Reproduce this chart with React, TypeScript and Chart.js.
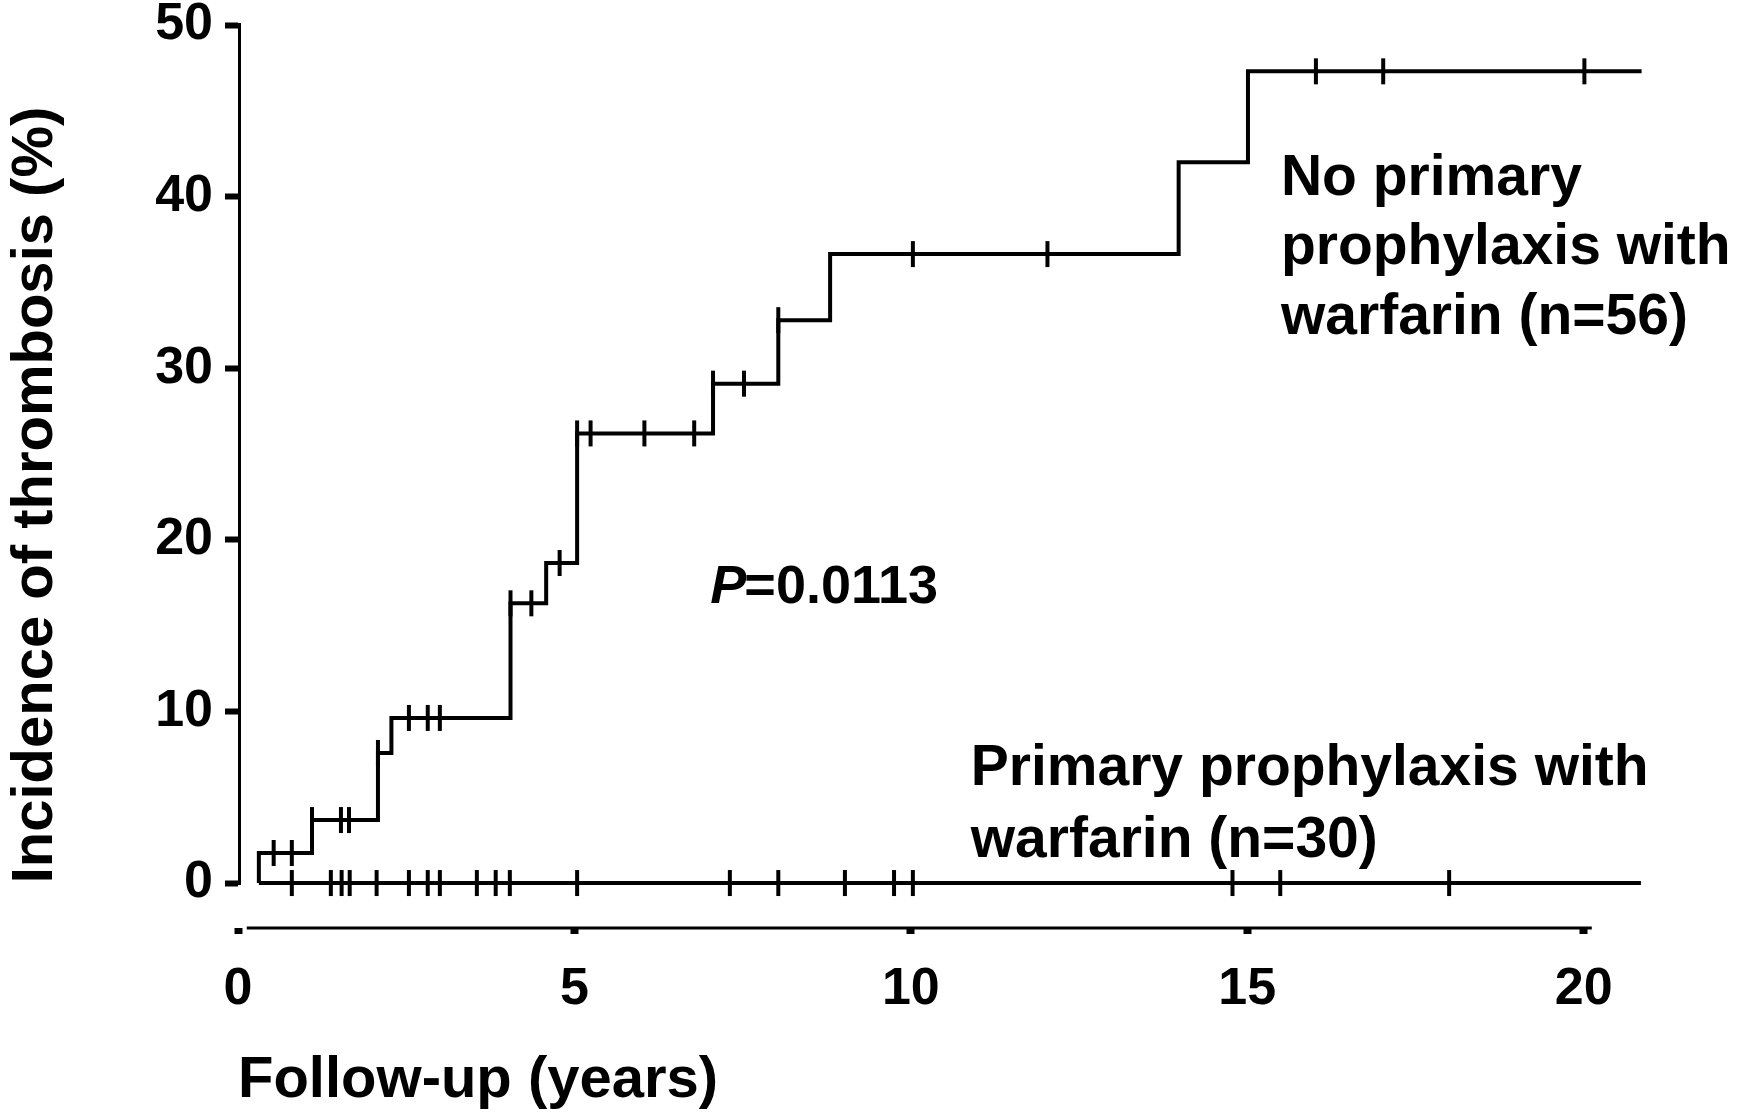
import React, { useEffect, useRef } from 'react';
import { Chart, registerables } from 'chart.js';

Chart.register(...registerables);

const FONT = '"Liberation Sans", Arial, Helvetica, sans-serif';

// Kaplan-Meier step curve: no primary prophylaxis with warfarin (n=56)
const noProphTimes = [0.31, 0.31, 1.1, 2.08, 2.28, 4.05, 4.58, 5.04, 7.06, 8.03, 8.8, 13.98, 15.01, 20.86];
const noProphPct = [0, 1.75, 3.67, 7.58, 9.62, 16.3, 18.65, 26.2, 29.1, 32.8, 36.65, 42.0, 47.3, 47.3];

// Censored observations on the no-prophylaxis curve
const noProphCensorTimes = [0.53, 0.8, 1.1, 1.53, 1.65, 2.08, 2.54, 2.82, 3.0, 4.05, 4.36, 4.78, 5.04, 5.24, 6.04, 6.78, 7.06, 7.52, 8.03, 10.03, 12.03, 16.02, 17.02, 20.01];
const noProphCensorPct = [1.75, 1.75, 3.67, 3.67, 3.67, 7.58, 9.62, 9.62, 9.62, 16.3, 16.3, 18.65, 26.2, 26.2, 26.2, 26.2, 29.1, 29.1, 32.8, 36.65, 36.65, 47.3, 47.3, 47.3];

// Primary prophylaxis with warfarin (n=30): no events
const prophTimes = [0.31, 20.85];
const prophPct = [0, 0];
const prophCensorTimes = [0.8, 1.38, 1.54, 1.66, 2.06, 2.54, 2.82, 3.0, 3.55, 3.83, 4.04, 5.04, 7.31, 8.03, 9.02, 9.75, 10.03, 14.78, 15.49, 18.0];

// Axis ticks
const xTickValues = [0, 5, 10, 15, 20];
const yTickValues = [0, 10, 20, 30, 40, 50];

const xTitle = 'Follow-up (years)';
const yTitle = 'Incidence of thrombosis (%)';
const noProphLabel = ['No primary', 'prophylaxis with', 'warfarin (n=56)'];
const prophLabel = ['Primary prophylaxis with', 'warfarin (n=30)'];
const pValueText = '=0.0113';

const annotationPlugin = {
  id: 'kmAnnotations',
  afterDraw(chart: any) {
    const { ctx, chartArea } = chart;
    const x = chart.scales.x;
    const y = chart.scales.y;
    ctx.save();
    ctx.fillStyle = '#000';
    ctx.strokeStyle = '#000';

    // y axis line (from 0 to 50)
    ctx.lineWidth = 3;
    ctx.beginPath();
    ctx.moveTo(chartArea.left + 1.5, y.getPixelForValue(50) - 2);
    ctx.lineTo(chartArea.left + 1.5, y.getPixelForValue(0) + 2);
    ctx.stroke();

    // x axis line (offset below the plot)
    ctx.beginPath();
    ctx.moveTo(x.getPixelForValue(0.13), chartArea.bottom);
    ctx.lineTo(x.getPixelForValue(20.12), chartArea.bottom);
    ctx.stroke();

    // y axis title
    ctx.save();
    ctx.font = `bold 58px ${FONT}`;
    ctx.textAlign = 'center';
    ctx.textBaseline = 'alphabetic';
    ctx.translate(52, 495);
    ctx.rotate(-Math.PI / 2);
    ctx.fillText(yTitle, 0, 0);
    ctx.restore();

    // group labels
    ctx.font = `bold 57px ${FONT}`;
    ctx.textAlign = 'left';
    ctx.textBaseline = 'alphabetic';
    const upX = x.getPixelForValue(15.5);
    const upY = y.getPixelForValue(40.1);
    noProphLabel.forEach((line, i) => ctx.fillText(line, upX, upY + i * 69.5));

    const lowX = x.getPixelForValue(10.89);
    const lowY = y.getPixelForValue(5.71);
    prophLabel.forEach((line, i) => ctx.fillText(line, lowX, lowY + i * 72));

    // P value
    const px = x.getPixelForValue(7.02);
    const py = y.getPixelForValue(16.3);
    ctx.font = `italic bold 54px ${FONT}`;
    ctx.fillText('P', px, py);
    const pw = ctx.measureText('P').width;
    ctx.font = `bold 54px ${FONT}`;
    ctx.fillText(pValueText, px + pw - 2, py);

    ctx.restore();
  },
};

export default function App() {
  const canvasRef = useRef<HTMLCanvasElement | null>(null);

  useEffect(() => {
    const canvas = canvasRef.current;
    if (!canvas) return;

    const toXY = (xs: number[], ys: number[]) => xs.map((t, i) => ({ x: t, y: ys[i] }));

    const chart = new Chart(canvas, {
      type: 'scatter',
      data: {
        datasets: [
          {
            label: 'No primary prophylaxis with warfarin (n=56)',
            data: toXY(noProphTimes, noProphPct),
            showLine: true,
            stepped: 'before',
            borderColor: '#000',
            borderWidth: 4,
            pointRadius: 0,
            fill: false,
          },
          {
            label: 'Primary prophylaxis with warfarin (n=30)',
            data: toXY(prophTimes, prophPct),
            showLine: true,
            stepped: 'before',
            borderColor: '#000',
            borderWidth: 4,
            pointRadius: 0,
            fill: false,
          },
          {
            label: 'Censored (no prophylaxis)',
            data: toXY(noProphCensorTimes, noProphCensorPct),
            showLine: false,
            pointStyle: 'line',
            pointRotation: 90,
            pointRadius: 13,
            pointBorderWidth: 4,
            pointBorderColor: '#000',
            pointBackgroundColor: '#000',
          },
          {
            label: 'Censored (prophylaxis)',
            data: prophCensorTimes.map((t) => ({ x: t, y: 0 })),
            showLine: false,
            pointStyle: 'line',
            pointRotation: 90,
            pointRadius: 13,
            pointBorderWidth: 4,
            pointBorderColor: '#000',
            pointBackgroundColor: '#000',
          },
        ],
      } as any,
      options: {
        animation: false,
        responsive: false,
        maintainAspectRatio: false,
        layout: { padding: { left: 0, right: 95, top: 25, bottom: 0 } },
        plugins: {
          legend: { display: false },
          tooltip: { enabled: false },
        },
        scales: {
          x: {
            type: 'linear',
            position: 'bottom',
            min: 0,
            max: 21,
            afterFit: (s: any) => {
              s.height = 188;
              s.paddingLeft = 0;
              s.paddingRight = 0;
            },
            afterBuildTicks: (s: any) => {
              s.ticks = xTickValues.map((v) => ({ value: v }));
            },
            border: { display: false },
            grid: {
              drawOnChartArea: false,
              drawTicks: true,
              tickLength: 6,
              tickWidth: 8,
              tickColor: '#000',
            },
            ticks: {
              stepSize: 5,
              includeBounds: false,
              color: '#000',
              padding: 30,
              maxRotation: 0,
              font: { family: FONT, size: 52, weight: 'bold', lineHeight: 1 },
            },
            title: {
              display: true,
              text: xTitle,
              align: 'start',
              color: '#000',
              padding: 0,
              font: { family: FONT, size: 58, weight: 'bold', lineHeight: 1.2 },
            },
          },
          y: {
            type: 'linear',
            min: -2.62,
            max: 50,
            afterFit: (s: any) => {
              s.width = 238;
              s.paddingTop = 0;
              s.paddingBottom = 0;
            },
            afterBuildTicks: (s: any) => {
              s.ticks = yTickValues.map((v) => ({ value: v }));
            },
            border: { display: false },
            grid: {
              drawOnChartArea: false,
              drawTicks: true,
              tickLength: 13,
              tickWidth: 6,
              tickColor: '#000',
            },
            ticks: {
              stepSize: 10,
              includeBounds: false,
              color: '#000',
              padding: 12,
              font: { family: FONT, size: 52, weight: 'bold', lineHeight: 1 },
            },
          },
        },
      } as any,
      plugins: [annotationPlugin],
    });

    return () => {
      chart.destroy();
    };
  }, []);

  return (
    <div style={{ position: 'absolute', left: 0, top: 0, width: 1746, height: 1116, background: '#fff' }}>
      <canvas ref={canvasRef} width={1746} height={1116} style={{ display: 'block' }} />
    </div>
  );
}
